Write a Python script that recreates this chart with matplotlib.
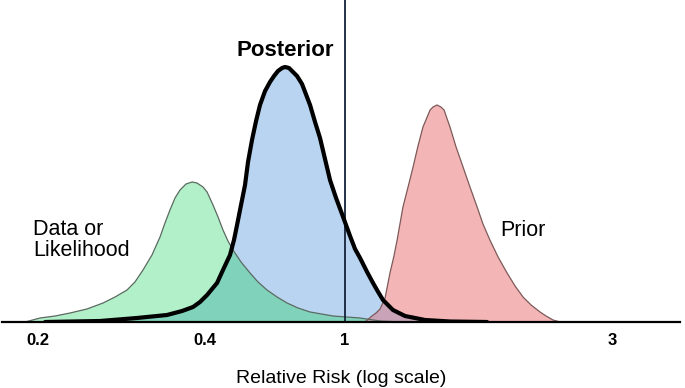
import numpy as np
import matplotlib
matplotlib.use("Agg")
import matplotlib.pyplot as plt

plt.rcParams['font.family'] = ['Liberation Sans', 'DejaVu Sans']

# relative risk (x) and curve height (arbitrary density units)
likelihood_rr = [0.1895, 0.2017, 0.2146, 0.2284, 0.2450, 0.2619, 0.2753, 0.2893, 0.2990,
                 0.3092, 0.3209, 0.3318, 0.3387, 0.3458, 0.3531, 0.3605, 0.3696, 0.3790,
                 0.3869, 0.3966, 0.4053, 0.4214, 0.4355, 0.4498, 0.4648, 0.4803, 0.5062,
                 0.5370, 0.5658, 0.6000, 0.6409, 0.6842, 0.7352, 0.7953, 0.9244, 1.0637,
                 1.155, 1.254]
likelihood_h = [0, 4, 6, 9, 13, 19, 25, 32, 40,
                52, 67, 85, 99, 112, 124, 132, 138, 140,
                139, 135, 130, 117, 105, 92, 81, 72, 60,
                49, 40, 32, 25, 19, 14, 10, 6, 4,
                1, 0]

posterior_rr = [0.2059, 0.2587, 0.3015, 0.3415, 0.3636, 0.3805, 0.3917, 0.4053, 0.4326,
                0.4498, 0.4710, 0.4834, 0.4932, 0.5062, 0.5196, 0.5299, 0.5439, 0.5585,
                0.5731, 0.5924, 0.6119, 0.6282, 0.6447, 0.6622, 0.6752, 0.6930, 0.7068,
                0.7303, 0.7546, 0.7953, 0.8217, 0.8489, 0.9063, 0.9428, 0.9804, 1.0208,
                1.042, 1.0637, 1.095, 1.122, 1.146, 1.169, 1.218, 1.280, 1.334,
                1.390, 1.540, 1.794]
posterior_h = [0, 1, 4, 7, 11, 15, 20, 27, 39,
               52, 67, 82, 97, 117, 137, 160, 182, 201,
               217, 231, 240, 246, 251, 254, 255, 254, 251,
               246, 238, 217, 200, 184, 142, 124, 108, 86,
               73, 64, 50, 39, 30, 22, 12, 6, 4,
               2, 0.5, 0]

prior_rr = [1.0858, 1.117, 1.136, 1.155, 1.179, 1.203, 1.223, 1.239, 1.269, 1.296,
            1.323, 1.350, 1.378, 1.419, 1.436, 1.460, 1.484, 1.503, 1.540, 1.579,
            1.625, 1.672, 1.722, 1.764, 1.815, 1.877, 1.948, 2.013, 2.080, 2.150,
            2.231, 2.287, 2.353, 2.423]
prior_h = [0, 6, 9, 13, 24, 49, 66, 82, 115, 135,
           155, 176, 195, 212, 215, 217, 215, 212, 195, 175,
           155, 135, 115, 98, 82, 65, 49, 36, 25, 17,
           10, 6, 2, 0]

tick_vals = [0.2, 0.4, 1, 3]
tick_labels = ['0.2', '0.4', '1', '3']

# the drawn axis is not evenly logarithmic: tick positions along the axis
tick_pos = [38, 205, 345, 612]
lk = np.log10(tick_vals)
left_slope = (tick_pos[1] - tick_pos[0]) / (lk[1] - lk[0])
right_slope = (tick_pos[3] - tick_pos[2]) / (lk[3] - lk[2])
LK = np.concatenate([[-2], lk, [2]])
PK = np.concatenate([[tick_pos[0] - (lk[0] + 2) * left_slope], tick_pos,
                     [tick_pos[3] + (2 - lk[3]) * right_slope]])


def fwd(v):
    v = np.clip(np.asarray(v, dtype=float), 1e-6, None)
    return np.interp(np.log10(v), LK, PK)


def inv(u):
    return 10 ** np.interp(np.asarray(u, dtype=float), PK, LK)


green = '#b2f0c9'
blue = '#b9d4f0'
red = '#f4b5b6'
teal = '#80d2bb'
mauve = '#c9a3b8'

fig = plt.figure(figsize=(6.85, 3.88), dpi=100)
ax = fig.add_axes([2 / 685, 66 / 388, 678 / 685, 322 / 388])
ax.set_xscale('function', functions=(fwd, inv))

g_patch = ax.fill(likelihood_rr, likelihood_h, color=green, lw=0, zorder=1)[0]
b_patch = ax.fill(posterior_rr, posterior_h, color=blue, lw=0, zorder=1.1)[0]
gb = ax.fill(likelihood_rr, likelihood_h, color=teal, lw=0, zorder=1.2)[0]
gb.set_clip_path(b_patch)
r_patch = ax.fill(prior_rr, prior_h, color=red, lw=0, zorder=1.3)[0]
rb = ax.fill(prior_rr, prior_h, color=mauve, lw=0, zorder=1.4)[0]
rb.set_clip_path(b_patch)

ax.plot(likelihood_rr, likelihood_h, color='#5b6b62', lw=0.9, zorder=2)
ax.plot(prior_rr, prior_h, color='#7d5a5a', lw=0.9, zorder=2)
ax.axvline(1, color='#14233a', lw=1.3, zorder=2.5)
ax.plot(posterior_rr, posterior_h, color='black', lw=3, zorder=3,
        solid_joinstyle='round', solid_capstyle='round')

ax.set_xlim(0.1722, 3.968)
ax.set_ylim(0, 322)
ax.set_xticks(tick_vals)
ax.set_xticklabels(tick_labels, fontsize=12, fontweight='bold')
ax.minorticks_off()
ax.tick_params(axis='x', length=0, pad=8)
ax.set_yticks([])
for s in ['left', 'top', 'right']:
    ax.spines[s].set_visible(False)
ax.spines['bottom'].set_linewidth(1.6)
ax.patch.set_alpha(0)

ax.text(0.675, 272, 'Posterior', fontsize=16, fontweight='bold',
        ha='center', va='center')
ax.text(0.196, 82, 'Data or\nLikelihood', fontsize=15.5, ha='left', va='center',
        linespacing=1.0)
ax.text(1.892, 92, 'Prior', fontsize=15.5, ha='left', va='center')
ax.set_xlabel('Relative Risk (log scale)', fontsize=14, labelpad=16)

fig.savefig('out.png', dpi=100)
